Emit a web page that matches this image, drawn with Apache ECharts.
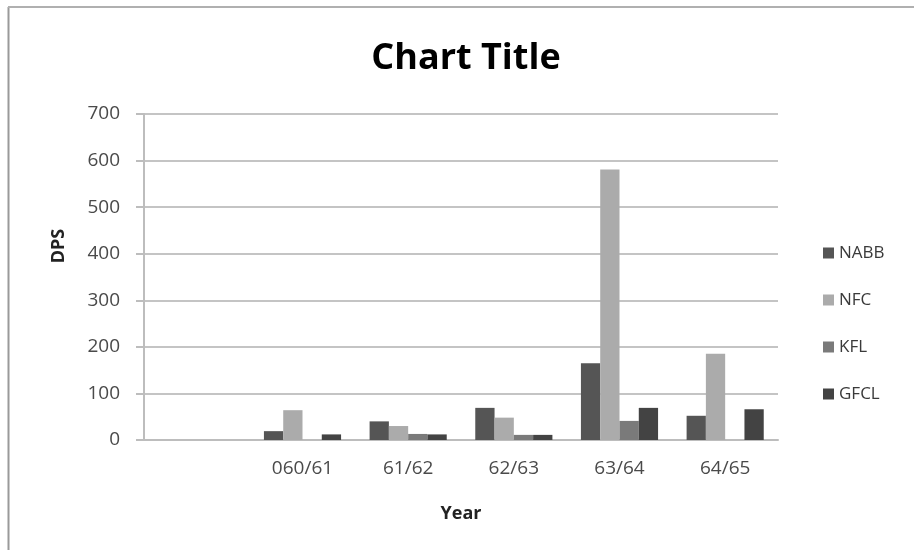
<!DOCTYPE html>
<html>
<head>
<meta charset="utf-8">
<script src="https://cdn.jsdelivr.net/npm/echarts@6/dist/echarts.min.js"></script>
<style>
  html, body { margin: 0; padding: 0; background: #fff; }
  #chart { width: 914px; height: 550px; }
</style>
</head>
<body>
<div id="chart"></div>
<script>
// Categories (the first slot is left blank, as in the source workbook)
var years = ['', '060/61', '61/62', '62/63', '63/64', '64/65'];

// DPS per company and year
var nabb = [null, 19, 40, 69, 165, 52];
var nfc  = [null, 64, 30, 48, 581, 185];
var kfl  = [null, 0, 13, 11, 41, 0];
var gfcl = [null, 12, 12, 11, 69, 66];

var yTicks = { min: 0, max: 700, interval: 100 };

var seriesDefs = [
  { name: 'NABB', data: nabb, color: '#555555' },
  { name: 'NFC',  data: nfc,  color: '#ababab' },
  { name: 'KFL',  data: kfl,  color: '#7a7a7a' },
  { name: 'GFCL', data: gfcl, color: '#434343' }
];

var font = '"Open Sans", "Noto Sans", sans-serif';

var chart = echarts.init(document.getElementById('chart'));
chart.setOption({
  backgroundColor: '#ffffff',
  animation: false,
  textStyle: { fontFamily: font },
  title: {
    text: 'Chart Title',
    left: 461,
    top: 36,
    textAlign: 'center',
    textStyle: { fontFamily: font, fontSize: 36, fontWeight: 'bold', color: '#000000' }
  },
  legend: {
    orient: 'vertical',
    left: 818,
    top: 239,
    itemWidth: 11,
    itemHeight: 11,
    itemGap: 29,
    icon: 'rect',
    textStyle: { fontFamily: font, fontSize: 17, color: '#3a3a3a', lineHeight: 18 },
    data: seriesDefs.map(function (s) { return s.name; })
  },
  grid: { left: 144, right: 136, top: 114, bottom: 110 },
  xAxis: {
    type: 'category',
    data: years,
    name: 'Year',
    nameLocation: 'middle',
    nameGap: 65,
    nameTextStyle: { fontFamily: font, fontSize: 18, fontWeight: 'bold', color: '#222222' },
    axisLine: { lineStyle: { color: '#bdbdbd', width: 2 } },
    axisTick: { show: false },
    axisLabel: { fontSize: 19, color: '#4a4a4a', margin: 19 }
  },
  yAxis: {
    type: 'value',
    min: yTicks.min,
    max: yTicks.max,
    interval: yTicks.interval,
    name: 'DPS',
    nameLocation: 'middle',
    nameGap: 76,
    nameRotate: 90,
    nameTextStyle: { fontFamily: font, fontSize: 18, fontWeight: 'bold', color: '#222222', padding: [0, 0, 0, 62] },
    axisLine: { show: true, lineStyle: { color: '#bdbdbd', width: 2 } },
    axisTick: { show: true, length: 8, lineStyle: { color: '#bdbdbd', width: 2 } },
    axisLabel: { fontSize: 19, color: '#4a4a4a', margin: 24 },
    splitLine: { lineStyle: { color: '#c4c4c4', width: 2 } }
  },
  series: seriesDefs.map(function (s) {
    return {
      name: s.name,
      type: 'bar',
      data: s.data,
      barGap: '0%',
      barCategoryGap: '27%',
      itemStyle: { color: s.color }
    };
  }),
  graphic: [
    { type: 'line', shape: { x1: 8.5, y1: 7, x2: 8.5, y2: 550 }, style: { stroke: '#9a9a9a', lineWidth: 2 } },
    { type: 'line', shape: { x1: 8, y1: 7, x2: 914, y2: 7 }, style: { stroke: '#b0b0b0', lineWidth: 2 } }
  ]
});
</script>
</body>
</html>
